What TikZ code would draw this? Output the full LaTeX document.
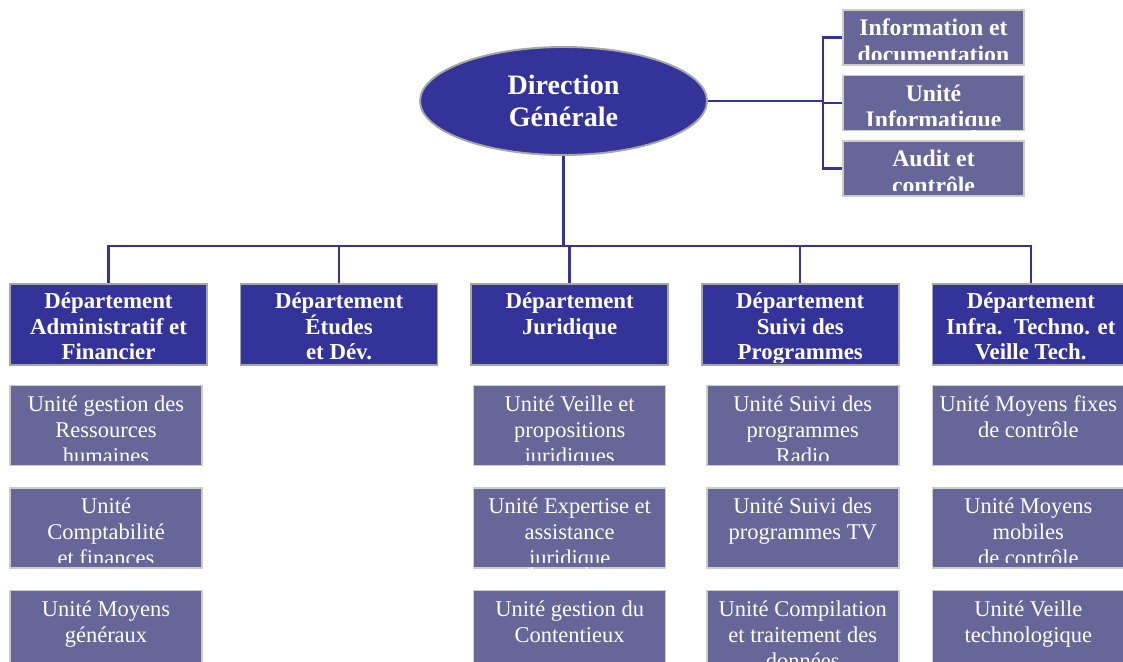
\documentclass[tikz,border=0pt]{standalone}
\usepackage{fontspec}
\setmainfont{Liberation Serif}
\usetikzlibrary{shapes.geometric, positioning}
\definecolor{dgblue}{RGB}{51,51,153}
\definecolor{unitblue}{RGB}{102,102,153}
\tikzset{
  link/.style={draw=dgblue, line width=1.4pt},
  dept/.style={rectangle, draw=gray!70, line width=0.9pt, fill=dgblue, text=white,
    font=\bfseries\fontsize{13}{14.5}\selectfont, align=flush center, text width=3.74cm,
    inner xsep=0.1cm, inner ysep=0pt, text height=0.5cm, text depth=1.12cm},
  unit/.style={rectangle, draw=gray!40, line width=0.9pt, fill=unitblue, text=white,
    font=\fontsize{12.8}{14.7}\selectfont, align=flush center, text width=3.64cm,
    inner xsep=0.1cm, inner ysep=0pt, text height=0.52cm, text depth=1.08cm},
  side/.style={unit, font=\bfseries\fontsize{13.5}{15}\selectfont, text width=3.42cm, text depth=0.58cm}
}
\begin{document}
\begin{tikzpicture}
\useasboundingbox (0,0) rectangle (22.46,13.22);

\node (dg) [ellipse, draw=gray!70, line width=1.1pt, fill=dgblue, text=white, font=\bfseries\fontsize{16}{18}\selectfont, align=center, minimum width=5.74cm, minimum height=2.16cm, inner sep=0pt] at (11.27,11.2) {Direction\\Générale};

\node (info) [side, anchor=north] at (18.67,13.04) {Information et\\documentation};
\node (infor) [side, below=0.18cm of info] {Unité\\Informatique};
\node (audit) [side, below=0.18cm of infor] {Audit et\\contrôle};

\node (adm) [dept, anchor=north] at (2.17,7.56) {Département\\Administratif et\\Financier};
\node (etu) [dept, right=0.64cm of adm] {Département\\Études\\et Dév.};
\node (jur) [dept, right=0.64cm of etu] {Département\\Juridique};
\node (suivi) [dept, right=0.64cm of jur] {Département\\Suivi des\\Programmes};
\node (infra) [dept, right=0.64cm of suivi] {Département\\Infra.~~Techno. et\\Veille Tech.};

\node (rh) [unit, below=0.38cm of adm.south west, anchor=north west] {Unité gestion des\\Ressources\\humaines};
\node (compta) [unit, below=0.42cm of rh] {Unité\\Comptabilité\\et finances};
\node (moyg) [unit, below=0.42cm of compta] {Unité Moyens\\généraux};

\node (veillej) [unit, below=0.38cm of jur] {Unité Veille et\\propositions\\juridiques};
\node (expert) [unit, below=0.42cm of veillej] {Unité Expertise et\\assistance\\juridique};
\node (conten) [unit, below=0.42cm of expert] {Unité gestion du\\Contentieux};

\node (radio) [unit, below=0.38cm of suivi.south east, anchor=north east] {Unité Suivi des\\programmes\\Radio};
\node (tv) [unit, below=0.42cm of radio] {Unité Suivi des\\programmes TV};
\node (compil) [unit, below=0.42cm of tv] {Unité Compilation\\et traitement des\\données};

\node (fixes) [unit, below=0.38cm of infra.south west, anchor=north west] {Unité Moyens fixes\\de contrôle};
\node (mobiles) [unit, below=0.42cm of fixes] {Unité Moyens\\mobiles\\de contrôle};
\node (veillet) [unit, below=0.42cm of mobiles] {Unité Veille\\technologique};

% bottom of the boxes hides the last line
\foreach \n in {info,infor,audit,rh,compta,moyg,veillej,expert,conten,radio,tv,compil,fixes,mobiles,veillet}
  \fill[unitblue] ([shift={(0.9pt,0.9pt)}]\n.south west) rectangle ([shift={(-0.9pt,0.11cm)}]\n.south east);
\foreach \n in {adm,etu,jur,suivi,infra}
  \fill[dgblue] ([shift={(0.9pt,0.9pt)}]\n.south west) rectangle ([shift={(-0.9pt,0.06cm)}]\n.south east);

\coordinate (bus) at (11.27,8.30);
\coordinate (rbus) at (16.46,11.2);
\draw[link] (dg.south) -- (bus);
\foreach \d in {adm,etu,jur,suivi,infra}
  \draw[link] (bus) -| (\d.north);
\draw[link] (dg.east) -- (rbus);
\foreach \s in {info,infor,audit}
  \draw[link] (rbus) |- (\s.west);
\end{tikzpicture}
\end{document}
